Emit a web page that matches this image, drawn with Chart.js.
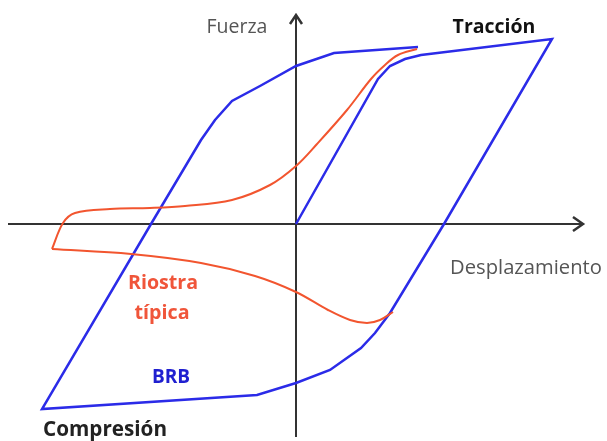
<!DOCTYPE html>
<html>
<head>
<meta charset="utf-8">
<script src="https://cdn.jsdelivr.net/npm/chart.js@4.4.1/dist/chart.umd.min.js"></script>
<style>
  html, body { margin: 0; padding: 0; background: #fff; }
  canvas { display: block; }
</style>
</head>
<body>
<canvas id="hysteresisChart" width="607" height="441"></canvas>
<script>
// BRB loop (displacement, force)
const brbX = [0, 8.2, 9.4, 10.9, 12.5, 25.6, 14.8, 9.4, 7.9, 6.5, 3.4, 0, -3.9, -25.4, -14.5, -9.5, -8.1, -6.4, -3.6, 0, 3.8, 12.2];
const brbY = [0, 14.5, 15.8, 16.5, 16.9, 18.5, 0, -8.9, -10.9, -12.4, -14.6, -15.9, -17.1, -18.5, 0, 8.4, 10.4, 12.3, 13.8, 15.8, 17.1, 17.7];

// typical brace, upper branch (from tension peak back to compression)
const braceUpX = [12.1, 10.2, 8.9, 7.5, 5.1, 2.1, 0, -2.6, -6.4, -11.1, -14.6, -18.6, -22.1, -23.3, -24.4];
const braceUpY = [17.5, 16.9, 15.9, 14.5, 11.4, 8.0, 5.8, 3.9, 2.4, 1.8, 1.6, 1.5, 1.1, 0.1, -2.5];

// typical brace, lower branch (buckling side)
const braceLowX = [-24.4, -16.5, -9.5, -4.1, 0, 3.2, 5.4, 7.1, 8.4, 9.7];
const braceLowY = [-2.5, -3.0, -3.9, -5.2, -6.8, -8.6, -9.6, -9.9, -9.6, -8.8];

// axis extents (same units)
const axisX = [-28.8, 28.7];
const axisY = [-21.3, 20.9];

function toPoints(xs, ys) {
  return xs.map((x, i) => ({ x: x, y: ys[i] }));
}

// labels
const labels = [
  { text: "Fuerza", x: -5.9, y: 19.7, w: 61, bold: false, color: "#555" },
  { text: "Tracción", x: 19.8, y: 19.7, w: 83, bold: true, color: "#111" },
  { text: "Desplazamiento", x: 23.0, y: -4.4, w: 152, bold: false, color: "#555" },
  { text: "Riostra", x: -13.3, y: -5.9, w: 70, bold: true, color: "#f0553a" },
  { text: "típica", x: -13.4, y: -8.9, w: 55, bold: true, color: "#f0553a" },
  { text: "BRB", x: -12.5, y: -15.4, w: 38, bold: true, color: "#2020d0" },
  { text: "Compresión", x: -19.1, y: -20.6, w: 124, bold: true, color: "#222" },
];

const axesPlugin = {
  id: "arrowAxes",
  beforeDatasetsDraw(chart) {
    const { ctx, scales } = chart;
    const x0 = scales.x.getPixelForValue(0);
    const y0 = scales.y.getPixelForValue(0);
    const xl = scales.x.getPixelForValue(axisX[0]);
    const xr = scales.x.getPixelForValue(axisX[1]);
    const yb = scales.y.getPixelForValue(axisY[0]);
    const yt = scales.y.getPixelForValue(axisY[1]);
    ctx.save();
    ctx.strokeStyle = "#333";
    ctx.lineWidth = 2;
    ctx.beginPath();
    ctx.moveTo(xl, y0);
    ctx.lineTo(xr, y0);
    ctx.moveTo(x0, yb);
    ctx.lineTo(x0, yt);
    ctx.stroke();
    // arrow heads
    ctx.lineWidth = 2.5;
    ctx.beginPath();
    ctx.moveTo(xr - 10, y0 - 7);
    ctx.lineTo(xr, y0);
    ctx.lineTo(xr - 10, y0 + 7);
    ctx.moveTo(x0 - 6, yt + 9);
    ctx.lineTo(x0, yt);
    ctx.lineTo(x0 + 6, yt + 9);
    ctx.stroke();
    ctx.restore();
  },
  afterDraw(chart) {
    const { ctx, scales } = chart;
    ctx.save();
    ctx.textAlign = "center";
    ctx.textBaseline = "middle";
    labels.forEach((l) => {
      const weight = l.bold ? "bold " : "";
      ctx.font = weight + "18px 'Open Sans'";
      const size = (18 * l.w) / ctx.measureText(l.text).width;
      ctx.font = weight + size.toFixed(1) + "px 'Open Sans'";
      ctx.fillStyle = l.color;
      ctx.fillText(l.text, scales.x.getPixelForValue(l.x), scales.y.getPixelForValue(l.y));
    });
    ctx.restore();
  },
};

new Chart(document.getElementById("hysteresisChart"), {
  type: "scatter",
  data: {
    datasets: [
      {
        label: "Riostra típica (superior)",
        data: toPoints(braceUpX, braceUpY),
        showLine: true,
        borderColor: "#f2552f",
        borderWidth: 2,
        pointRadius: 0,
        tension: 0.35,
      },
      {
        label: "Riostra típica (inferior)",
        data: toPoints(braceLowX, braceLowY),
        showLine: true,
        borderColor: "#f2552f",
        borderWidth: 2,
        pointRadius: 0,
        tension: 0.35,
      },
      {
        label: "BRB",
        data: toPoints(brbX, brbY),
        showLine: true,
        borderColor: "#2b2be8",
        borderWidth: 2.5,
        pointRadius: 0,
        tension: 0,
      },
    ],
  },
  options: {
    responsive: false,
    animation: false,
    layout: { padding: 0 },
    scales: {
      x: { type: "linear", min: -29.6, max: 31.1, display: false },
      y: { type: "linear", min: -21.7, max: 22.4, display: false },
    },
    plugins: {
      legend: { display: false },
      tooltip: { enabled: false },
    },
  },
  plugins: [axesPlugin],
});
</script>
</body>
</html>
